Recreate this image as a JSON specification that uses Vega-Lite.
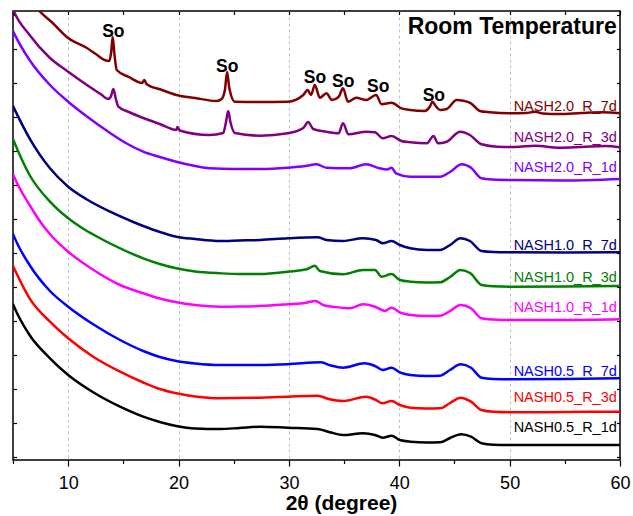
{
"$schema": "https://vega.github.io/schema/vega-lite/v6.json",
"width": 607, "height": 449,
"autosize": {"type": "none"},
"padding": {"left": 13, "top": 11, "right": 13, "bottom": 56},
"background": "white",
"config": {"view": {"stroke": "#000", "strokeWidth": 1.5}, "font": "Liberation Sans"},
"datasets": {
"xrd": [
{"s":"NASH2.0_R_7d","t":5,"v":482},{"s":"NASH2.0_R_7d","t":6,"v":466},{"s":"NASH2.0_R_7d","t":7,"v":454},{"s":"NASH2.0_R_7d","t":7.45,"v":448.3},{"s":"NASH2.0_R_7d","t":8.5,"v":438},{"s":"NASH2.0_R_7d","t":10,"v":422},{"s":"NASH2.0_R_7d","t":11.7,"v":412},{"s":"NASH2.0_R_7d","t":12.5,"v":406},{"s":"NASH2.0_R_7d","t":13.3,"v":400},{"s":"NASH2.0_R_7d","t":13.7,"v":399},{"s":"NASH2.0_R_7d","t":13.9,"v":408},{"s":"NASH2.0_R_7d","t":14.03,"v":423},{"s":"NASH2.0_R_7d","t":14.2,"v":405},{"s":"NASH2.0_R_7d","t":14.4,"v":390},{"s":"NASH2.0_R_7d","t":15.5,"v":383},{"s":"NASH2.0_R_7d","t":16.7,"v":377},{"s":"NASH2.0_R_7d","t":16.9,"v":380},{"s":"NASH2.0_R_7d","t":17.1,"v":376},{"s":"NASH2.0_R_7d","t":18.5,"v":370},{"s":"NASH2.0_R_7d","t":19.8,"v":365},{"s":"NASH2.0_R_7d","t":21.5,"v":362},{"s":"NASH2.0_R_7d","t":23.45,"v":359},{"s":"NASH2.0_R_7d","t":23.9,"v":361},{"s":"NASH2.0_R_7d","t":24.2,"v":370},{"s":"NASH2.0_R_7d","t":24.4,"v":388},{"s":"NASH2.0_R_7d","t":24.6,"v":372},{"s":"NASH2.0_R_7d","t":25.1,"v":358.3},{"s":"NASH2.0_R_7d","t":27.4,"v":358},{"s":"NASH2.0_R_7d","t":29.9,"v":358.3},{"s":"NASH2.0_R_7d","t":31.3,"v":365},{"s":"NASH2.0_R_7d","t":31.7,"v":370},{"s":"NASH2.0_R_7d","t":32.0,"v":365},{"s":"NASH2.0_R_7d","t":32.35,"v":375},{"s":"NASH2.0_R_7d","t":32.8,"v":362.3},{"s":"NASH2.0_R_7d","t":33.4,"v":366.7},{"s":"NASH2.0_R_7d","t":33.9,"v":360},{"s":"NASH2.0_R_7d","t":34.5,"v":363},{"s":"NASH2.0_R_7d","t":34.9,"v":371.7},{"s":"NASH2.0_R_7d","t":35.35,"v":358.3},{"s":"NASH2.0_R_7d","t":36.1,"v":362.3},{"s":"NASH2.0_R_7d","t":37.0,"v":360},{"s":"NASH2.0_R_7d","t":37.9,"v":365},{"s":"NASH2.0_R_7d","t":38.4,"v":355.7},{"s":"NASH2.0_R_7d","t":39.3,"v":357.3},{"s":"NASH2.0_R_7d","t":40.2,"v":351.7},{"s":"NASH2.0_R_7d","t":41.0,"v":350},{"s":"NASH2.0_R_7d","t":42.3,"v":349},{"s":"NASH2.0_R_7d","t":42.8,"v":354},{"s":"NASH2.0_R_7d","t":43.0,"v":358.3},{"s":"NASH2.0_R_7d","t":43.3,"v":354},{"s":"NASH2.0_R_7d","t":43.7,"v":350},{"s":"NASH2.0_R_7d","t":44.3,"v":351},{"s":"NASH2.0_R_7d","t":45.2,"v":360},{"s":"NASH2.0_R_7d","t":45.9,"v":359},{"s":"NASH2.0_R_7d","t":46.5,"v":356.7},{"s":"NASH2.0_R_7d","t":47.3,"v":349},{"s":"NASH2.0_R_7d","t":48.2,"v":347.7},{"s":"NASH2.0_R_7d","t":50,"v":346.7},{"s":"NASH2.0_R_7d","t":51.5,"v":347},{"s":"NASH2.0_R_7d","t":52.3,"v":348.3},{"s":"NASH2.0_R_7d","t":53,"v":346.5},{"s":"NASH2.0_R_7d","t":54.5,"v":346},{"s":"NASH2.0_R_7d","t":56.5,"v":347},{"s":"NASH2.0_R_7d","t":58.4,"v":347.7},{"s":"NASH2.0_R_7d","t":60,"v":346.7},

{"s":"NASH2.0_R_3d","t":5,"v":451},{"s":"NASH2.0_R_3d","t":5.1,"v":448.3},{"s":"NASH2.0_R_3d","t":6.5,"v":425},{"s":"NASH2.0_R_3d","t":8.35,"v":402},{"s":"NASH2.0_R_3d","t":10,"v":388.3},{"s":"NASH2.0_R_3d","t":11.7,"v":375},{"s":"NASH2.0_R_3d","t":13.0,"v":365.5},{"s":"NASH2.0_R_3d","t":13.6,"v":361},{"s":"NASH2.0_R_3d","t":13.85,"v":363},{"s":"NASH2.0_R_3d","t":14.1,"v":371},{"s":"NASH2.0_R_3d","t":14.3,"v":362},{"s":"NASH2.0_R_3d","t":14.55,"v":353.3},{"s":"NASH2.0_R_3d","t":15.5,"v":348},{"s":"NASH2.0_R_3d","t":16.8,"v":342},{"s":"NASH2.0_R_3d","t":18.3,"v":336},{"s":"NASH2.0_R_3d","t":19.8,"v":330},{"s":"NASH2.0_R_3d","t":19.9,"v":333},{"s":"NASH2.0_R_3d","t":20.1,"v":329.5},{"s":"NASH2.0_R_3d","t":22.8,"v":325},{"s":"NASH2.0_R_3d","t":24.05,"v":327},{"s":"NASH2.0_R_3d","t":24.3,"v":338},{"s":"NASH2.0_R_3d","t":24.5,"v":349},{"s":"NASH2.0_R_3d","t":24.7,"v":338},{"s":"NASH2.0_R_3d","t":25.1,"v":327},{"s":"NASH2.0_R_3d","t":27.4,"v":324.3},{"s":"NASH2.0_R_3d","t":29.9,"v":326.7},{"s":"NASH2.0_R_3d","t":31.3,"v":332},{"s":"NASH2.0_R_3d","t":31.75,"v":338},{"s":"NASH2.0_R_3d","t":32.2,"v":331},{"s":"NASH2.0_R_3d","t":33.4,"v":328.3},{"s":"NASH2.0_R_3d","t":34.5,"v":326.7},{"s":"NASH2.0_R_3d","t":34.9,"v":336.7},{"s":"NASH2.0_R_3d","t":35.4,"v":325.7},{"s":"NASH2.0_R_3d","t":37,"v":328.3},{"s":"NASH2.0_R_3d","t":37.8,"v":327.7},{"s":"NASH2.0_R_3d","t":38.5,"v":321.7},{"s":"NASH2.0_R_3d","t":39.3,"v":324},{"s":"NASH2.0_R_3d","t":40.2,"v":319},{"s":"NASH2.0_R_3d","t":41,"v":317.7},{"s":"NASH2.0_R_3d","t":42.5,"v":316.7},{"s":"NASH2.0_R_3d","t":43.1,"v":324},{"s":"NASH2.0_R_3d","t":43.5,"v":316.7},{"s":"NASH2.0_R_3d","t":44.3,"v":318.3},{"s":"NASH2.0_R_3d","t":45.5,"v":328.3},{"s":"NASH2.0_R_3d","t":46.4,"v":325},{"s":"NASH2.0_R_3d","t":47.45,"v":315.7},{"s":"NASH2.0_R_3d","t":48.9,"v":313.3},{"s":"NASH2.0_R_3d","t":50.5,"v":313},{"s":"NASH2.0_R_3d","t":52.3,"v":314.3},{"s":"NASH2.0_R_3d","t":54.5,"v":312.3},{"s":"NASH2.0_R_3d","t":56.5,"v":313},{"s":"NASH2.0_R_3d","t":58.7,"v":314},{"s":"NASH2.0_R_3d","t":60,"v":312.7},

{"s":"NASH2.0_R_1d","t":5,"v":429},{"s":"NASH2.0_R_1d","t":5.1,"v":426.7},{"s":"NASH2.0_R_1d","t":6.5,"v":400},{"s":"NASH2.0_R_1d","t":8.35,"v":375},{"s":"NASH2.0_R_1d","t":10,"v":358.3},{"s":"NASH2.0_R_1d","t":11.7,"v":343.5},{"s":"NASH2.0_R_1d","t":13.8,"v":327},{"s":"NASH2.0_R_1d","t":15.3,"v":316.5},{"s":"NASH2.0_R_1d","t":16.8,"v":308.3},{"s":"NASH2.0_R_1d","t":18.3,"v":303},{"s":"NASH2.0_R_1d","t":19.8,"v":298.3},{"s":"NASH2.0_R_1d","t":21.5,"v":294},{"s":"NASH2.0_R_1d","t":22.8,"v":291.7},{"s":"NASH2.0_R_1d","t":25,"v":291},{"s":"NASH2.0_R_1d","t":27.4,"v":291},{"s":"NASH2.0_R_1d","t":29.9,"v":292.3},{"s":"NASH2.0_R_1d","t":31.5,"v":294},{"s":"NASH2.0_R_1d","t":32.5,"v":295.7},{"s":"NASH2.0_R_1d","t":33.4,"v":292.3},{"s":"NASH2.0_R_1d","t":35.5,"v":291.7},{"s":"NASH2.0_R_1d","t":37,"v":295.7},{"s":"NASH2.0_R_1d","t":38.2,"v":291.7},{"s":"NASH2.0_R_1d","t":38.9,"v":290.5},{"s":"NASH2.0_R_1d","t":39.3,"v":292.3},{"s":"NASH2.0_R_1d","t":39.7,"v":286.7},{"s":"NASH2.0_R_1d","t":41,"v":283.3},{"s":"NASH2.0_R_1d","t":43.7,"v":283.3},{"s":"NASH2.0_R_1d","t":44.6,"v":288},{"s":"NASH2.0_R_1d","t":45.65,"v":295.7},{"s":"NASH2.0_R_1d","t":46.5,"v":292.3},{"s":"NASH2.0_R_1d","t":47.45,"v":281.7},{"s":"NASH2.0_R_1d","t":48.5,"v":280.5},{"s":"NASH2.0_R_1d","t":50,"v":280},{"s":"NASH2.0_R_1d","t":55,"v":279.5},{"s":"NASH2.0_R_1d","t":60,"v":281},

{"s":"NASH1.0_R_7d","t":5,"v":354},{"s":"NASH1.0_R_7d","t":5.1,"v":351.7},{"s":"NASH1.0_R_7d","t":6.5,"v":321.7},{"s":"NASH1.0_R_7d","t":8.35,"v":291.7},{"s":"NASH1.0_R_7d","t":10,"v":273.3},{"s":"NASH1.0_R_7d","t":11.7,"v":260.5},{"s":"NASH1.0_R_7d","t":13.8,"v":248.3},{"s":"NASH1.0_R_7d","t":15.9,"v":238},{"s":"NASH1.0_R_7d","t":16.8,"v":234},{"s":"NASH1.0_R_7d","t":18.3,"v":228},{"s":"NASH1.0_R_7d","t":19.8,"v":223.3},{"s":"NASH1.0_R_7d","t":21.5,"v":221},{"s":"NASH1.0_R_7d","t":23.75,"v":219},{"s":"NASH1.0_R_7d","t":25.5,"v":219.5},{"s":"NASH1.0_R_7d","t":27.4,"v":220},{"s":"NASH1.0_R_7d","t":29.9,"v":221.7},{"s":"NASH1.0_R_7d","t":32.6,"v":222.7},{"s":"NASH1.0_R_7d","t":33.4,"v":220},{"s":"NASH1.0_R_7d","t":34.9,"v":219},{"s":"NASH1.0_R_7d","t":36.7,"v":221.7},{"s":"NASH1.0_R_7d","t":37.9,"v":220},{"s":"NASH1.0_R_7d","t":38.5,"v":216.7},{"s":"NASH1.0_R_7d","t":39.3,"v":219},{"s":"NASH1.0_R_7d","t":40.05,"v":215},{"s":"NASH1.0_R_7d","t":41,"v":211.7},{"s":"NASH1.0_R_7d","t":42.5,"v":210},{"s":"NASH1.0_R_7d","t":43.7,"v":210},{"s":"NASH1.0_R_7d","t":44.6,"v":215},{"s":"NASH1.0_R_7d","t":45.55,"v":221.7},{"s":"NASH1.0_R_7d","t":46.4,"v":219},{"s":"NASH1.0_R_7d","t":47.45,"v":209},{"s":"NASH1.0_R_7d","t":48.5,"v":208},{"s":"NASH1.0_R_7d","t":50,"v":207.7},{"s":"NASH1.0_R_7d","t":55,"v":207.5},{"s":"NASH1.0_R_7d","t":60,"v":207.7},

{"s":"NASH1.0_R_3d","t":5,"v":321},{"s":"NASH1.0_R_3d","t":5.1,"v":318.3},{"s":"NASH1.0_R_3d","t":6.5,"v":285},{"s":"NASH1.0_R_3d","t":8.35,"v":258.3},{"s":"NASH1.0_R_3d","t":10,"v":241.7},{"s":"NASH1.0_R_3d","t":11.4,"v":231},{"s":"NASH1.0_R_3d","t":12.6,"v":223.5},{"s":"NASH1.0_R_3d","t":13.8,"v":216.5},{"s":"NASH1.0_R_3d","t":16.8,"v":201.7},{"s":"NASH1.0_R_3d","t":18.3,"v":196},{"s":"NASH1.0_R_3d","t":19.8,"v":191.7},{"s":"NASH1.0_R_3d","t":21.5,"v":188.5},{"s":"NASH1.0_R_3d","t":23.75,"v":186.7},{"s":"NASH1.0_R_3d","t":25.5,"v":186},{"s":"NASH1.0_R_3d","t":27.4,"v":186},{"s":"NASH1.0_R_3d","t":29.9,"v":188.3},{"s":"NASH1.0_R_3d","t":31.6,"v":190.7},{"s":"NASH1.0_R_3d","t":32.35,"v":194.3},{"s":"NASH1.0_R_3d","t":32.8,"v":189},{"s":"NASH1.0_R_3d","t":34.9,"v":185.7},{"s":"NASH1.0_R_3d","t":36.7,"v":190},{"s":"NASH1.0_R_3d","t":37.8,"v":190},{"s":"NASH1.0_R_3d","t":38.4,"v":183.3},{"s":"NASH1.0_R_3d","t":39.3,"v":186},{"s":"NASH1.0_R_3d","t":40.05,"v":180},{"s":"NASH1.0_R_3d","t":41,"v":178.3},{"s":"NASH1.0_R_3d","t":42.5,"v":177.5},{"s":"NASH1.0_R_3d","t":43.7,"v":177.7},{"s":"NASH1.0_R_3d","t":44.6,"v":183},{"s":"NASH1.0_R_3d","t":45.55,"v":190},{"s":"NASH1.0_R_3d","t":46.45,"v":186.7},{"s":"NASH1.0_R_3d","t":47.45,"v":175},{"s":"NASH1.0_R_3d","t":48.5,"v":173.7},{"s":"NASH1.0_R_3d","t":50,"v":173.3},{"s":"NASH1.0_R_3d","t":55,"v":173.5},{"s":"NASH1.0_R_3d","t":60,"v":174},

{"s":"NASH1.0_R_1d","t":5,"v":286},{"s":"NASH1.0_R_1d","t":5.1,"v":283.3},{"s":"NASH1.0_R_1d","t":6.5,"v":255},{"s":"NASH1.0_R_1d","t":7.75,"v":234},{"s":"NASH1.0_R_1d","t":8.5,"v":224},{"s":"NASH1.0_R_1d","t":10,"v":208.3},{"s":"NASH1.0_R_1d","t":12.3,"v":190},{"s":"NASH1.0_R_1d","t":14.7,"v":175},{"s":"NASH1.0_R_1d","t":16.8,"v":166.7},{"s":"NASH1.0_R_1d","t":18.3,"v":161.5},{"s":"NASH1.0_R_1d","t":19.8,"v":157.7},{"s":"NASH1.0_R_1d","t":21.5,"v":155},{"s":"NASH1.0_R_1d","t":23.75,"v":153.3},{"s":"NASH1.0_R_1d","t":25.5,"v":153.5},{"s":"NASH1.0_R_1d","t":27.4,"v":154},{"s":"NASH1.0_R_1d","t":29.9,"v":155.7},{"s":"NASH1.0_R_1d","t":31.5,"v":157},{"s":"NASH1.0_R_1d","t":32.4,"v":159},{"s":"NASH1.0_R_1d","t":33.1,"v":155},{"s":"NASH1.0_R_1d","t":34.2,"v":153},{"s":"NASH1.0_R_1d","t":35.5,"v":151.7},{"s":"NASH1.0_R_1d","t":36.7,"v":155.7},{"s":"NASH1.0_R_1d","t":37.8,"v":153.3},{"s":"NASH1.0_R_1d","t":38.7,"v":149},{"s":"NASH1.0_R_1d","t":39.3,"v":152.3},{"s":"NASH1.0_R_1d","t":40.05,"v":147.7},{"s":"NASH1.0_R_1d","t":41,"v":145},{"s":"NASH1.0_R_1d","t":42.5,"v":144},{"s":"NASH1.0_R_1d","t":43.7,"v":144.3},{"s":"NASH1.0_R_1d","t":44.6,"v":149},{"s":"NASH1.0_R_1d","t":45.55,"v":155},{"s":"NASH1.0_R_1d","t":46.5,"v":151.7},{"s":"NASH1.0_R_1d","t":47.45,"v":141.7},{"s":"NASH1.0_R_1d","t":48.5,"v":140.5},{"s":"NASH1.0_R_1d","t":50,"v":140},{"s":"NASH1.0_R_1d","t":55,"v":140},{"s":"NASH1.0_R_1d","t":60,"v":140.7},

{"s":"NASH0.5_R_7d","t":5,"v":226},{"s":"NASH0.5_R_7d","t":5.1,"v":223.3},{"s":"NASH0.5_R_7d","t":6.5,"v":195},{"s":"NASH0.5_R_7d","t":8.35,"v":169},{"s":"NASH0.5_R_7d","t":10,"v":153.3},{"s":"NASH0.5_R_7d","t":12.3,"v":135.5},{"s":"NASH0.5_R_7d","t":14.7,"v":120},{"s":"NASH0.5_R_7d","t":16.8,"v":109},{"s":"NASH0.5_R_7d","t":18.3,"v":103},{"s":"NASH0.5_R_7d","t":19.8,"v":99},{"s":"NASH0.5_R_7d","t":21.5,"v":96.5},{"s":"NASH0.5_R_7d","t":23.75,"v":95},{"s":"NASH0.5_R_7d","t":27.4,"v":95},{"s":"NASH0.5_R_7d","t":29.9,"v":95.7},{"s":"NASH0.5_R_7d","t":32.9,"v":97.7},{"s":"NASH0.5_R_7d","t":33.8,"v":94.5},{"s":"NASH0.5_R_7d","t":34.9,"v":92.3},{"s":"NASH0.5_R_7d","t":36.85,"v":96.7},{"s":"NASH0.5_R_7d","t":37.8,"v":94},{"s":"NASH0.5_R_7d","t":38.5,"v":90},{"s":"NASH0.5_R_7d","t":39.3,"v":92.3},{"s":"NASH0.5_R_7d","t":40.05,"v":87.7},{"s":"NASH0.5_R_7d","t":41,"v":85},{"s":"NASH0.5_R_7d","t":42.5,"v":84},{"s":"NASH0.5_R_7d","t":43.7,"v":84.3},{"s":"NASH0.5_R_7d","t":44.6,"v":90},{"s":"NASH0.5_R_7d","t":45.55,"v":95.7},{"s":"NASH0.5_R_7d","t":46.5,"v":92.3},{"s":"NASH0.5_R_7d","t":47.45,"v":82.3},{"s":"NASH0.5_R_7d","t":48.5,"v":81},{"s":"NASH0.5_R_7d","t":50,"v":80.7},{"s":"NASH0.5_R_7d","t":55,"v":81},{"s":"NASH0.5_R_7d","t":60,"v":81.7},

{"s":"NASH0.5_R_3d","t":5,"v":194},{"s":"NASH0.5_R_3d","t":5.1,"v":191.7},{"s":"NASH0.5_R_3d","t":6.5,"v":161.7},{"s":"NASH0.5_R_3d","t":8.35,"v":138.3},{"s":"NASH0.5_R_3d","t":10,"v":121.7},{"s":"NASH0.5_R_3d","t":12.3,"v":103},{"s":"NASH0.5_R_3d","t":14.7,"v":88.3},{"s":"NASH0.5_R_3d","t":16.8,"v":77.5},{"s":"NASH0.5_R_3d","t":18.3,"v":71},{"s":"NASH0.5_R_3d","t":19.8,"v":66.7},{"s":"NASH0.5_R_3d","t":21.5,"v":63.5},{"s":"NASH0.5_R_3d","t":23.75,"v":61.7},{"s":"NASH0.5_R_3d","t":27.4,"v":62.3},{"s":"NASH0.5_R_3d","t":29.9,"v":63.3},{"s":"NASH0.5_R_3d","t":32.6,"v":64.3},{"s":"NASH0.5_R_3d","t":33.6,"v":61},{"s":"NASH0.5_R_3d","t":34.9,"v":59},{"s":"NASH0.5_R_3d","t":37,"v":63.3},{"s":"NASH0.5_R_3d","t":37.8,"v":60.5},{"s":"NASH0.5_R_3d","t":38.5,"v":56.7},{"s":"NASH0.5_R_3d","t":39.3,"v":59},{"s":"NASH0.5_R_3d","t":40.05,"v":55},{"s":"NASH0.5_R_3d","t":41,"v":52.3},{"s":"NASH0.5_R_3d","t":42.5,"v":51.5},{"s":"NASH0.5_R_3d","t":43.7,"v":51.7},{"s":"NASH0.5_R_3d","t":44.6,"v":57},{"s":"NASH0.5_R_3d","t":45.55,"v":62.3},{"s":"NASH0.5_R_3d","t":46.5,"v":58.3},{"s":"NASH0.5_R_3d","t":47.45,"v":50},{"s":"NASH0.5_R_3d","t":48.5,"v":48.2},{"s":"NASH0.5_R_3d","t":50,"v":47.7},{"s":"NASH0.5_R_3d","t":55,"v":48},{"s":"NASH0.5_R_3d","t":60,"v":48.3},

{"s":"NASH0.5_R_1d","t":5,"v":156},{"s":"NASH0.5_R_1d","t":5.1,"v":153.3},{"s":"NASH0.5_R_1d","t":6.5,"v":125},{"s":"NASH0.5_R_1d","t":8.35,"v":101.7},{"s":"NASH0.5_R_1d","t":10,"v":85},{"s":"NASH0.5_R_1d","t":12.3,"v":67.5},{"s":"NASH0.5_R_1d","t":14.7,"v":53.3},{"s":"NASH0.5_R_1d","t":16.8,"v":43.3},{"s":"NASH0.5_R_1d","t":18.3,"v":38},{"s":"NASH0.5_R_1d","t":19.8,"v":34},{"s":"NASH0.5_R_1d","t":21.5,"v":31.5},{"s":"NASH0.5_R_1d","t":23.75,"v":31},{"s":"NASH0.5_R_1d","t":25.5,"v":32},{"s":"NASH0.5_R_1d","t":27.4,"v":33.3},{"s":"NASH0.5_R_1d","t":29.9,"v":32.3},{"s":"NASH0.5_R_1d","t":32.6,"v":31},{"s":"NASH0.5_R_1d","t":33.8,"v":27.5},{"s":"NASH0.5_R_1d","t":34.9,"v":25},{"s":"NASH0.5_R_1d","t":36.7,"v":26.7},{"s":"NASH0.5_R_1d","t":37.8,"v":25},{"s":"NASH0.5_R_1d","t":38.5,"v":22.3},{"s":"NASH0.5_R_1d","t":39.3,"v":24.3},{"s":"NASH0.5_R_1d","t":40.05,"v":20},{"s":"NASH0.5_R_1d","t":41,"v":18.3},{"s":"NASH0.5_R_1d","t":42.5,"v":17.5},{"s":"NASH0.5_R_1d","t":43.7,"v":17.7},{"s":"NASH0.5_R_1d","t":44.6,"v":22},{"s":"NASH0.5_R_1d","t":45.6,"v":25.7},{"s":"NASH0.5_R_1d","t":46.5,"v":23.3},{"s":"NASH0.5_R_1d","t":47.45,"v":16.7},{"s":"NASH0.5_R_1d","t":48.5,"v":15.3},{"s":"NASH0.5_R_1d","t":50,"v":15},{"s":"NASH0.5_R_1d","t":55,"v":15},{"s":"NASH0.5_R_1d","t":60,"v":15}
],
"labels": [
{"s":"NASH2.0_R_7d","t":59.71,"v":353.3},{"s":"NASH2.0_R_3d","t":59.71,"v":322.3},{"s":"NASH2.0_R_1d","t":59.71,"v":292.3},
{"s":"NASH1.0_R_7d","t":59.71,"v":214.3},{"s":"NASH1.0_R_3d","t":59.71,"v":182.3},{"s":"NASH1.0_R_1d","t":59.71,"v":152.3},
{"s":"NASH0.5_R_7d","t":59.71,"v":88.3},{"s":"NASH0.5_R_3d","t":59.71,"v":62.3},{"s":"NASH0.5_R_1d","t":59.71,"v":31.7}
],
"peaks": [
{"txt":"So","t":14.09,"v":428.3},{"txt":"So","t":24.41,"v":393.3},{"txt":"So","t":32.36,"v":381.7},
{"txt":"So","t":34.92,"v":377.7},{"txt":"So","t":38.09,"v":373.3},{"txt":"So","t":43.13,"v":364.3}
],
"title": [{"txt":"Room Temperature","t":59.71,"v":432.7}]
},
"layer": [
{
"data": {"name": "xrd"},
"mark": {"type": "line", "strokeWidth": 2.5, "clip": true, "interpolate": "monotone"},
"encoding": {
"x": {"field": "t", "type": "quantitative", "scale": {"domain": [5, 60], "nice": false, "zero": false},
"axis": {"orient": "bottom", "values": [5,10,15,20,25,30,35,40,45,50,55,60],
"labelExpr": "datum.value % 10 === 0 ? datum.label : ''",
"labelFontSize": 18, "labelColor": "#000", "labelPadding": 8, "labelFlush": false,
"tickColor": "#000", "tickWidth": 1.2,
"tickSize": {"condition": {"test": "datum.value % 10 === 0", "value": 6}, "value": 3.5},
"domain": false, "grid": true, "gridColor": "#bdbdbd", "gridDash": [3, 3], "gridWidth": 1,
"gridOpacity": {"condition": {"test": "datum.value % 10 === 0 && datum.value > 5 && datum.value < 60", "value": 1}, "value": 0},
"title": "2θ (degree)", "titleFontSize": 21, "titleFontWeight": "bold", "titleColor": "#000",
"titleX": 328, "titleY": 43.5, "titleBaseline": "middle", "titleAlign": "center"}},
"y": {"field": "v", "type": "quantitative", "scale": {"domain": [0, 449], "nice": false, "zero": false},
"axis": {"orient": "left", "values": [3,37,71,105,139,173,207,241,275,309,343,377,411,445], "labels": false, "domain": false, "grid": false,
"tickSize": -3.5, "tickColor": "#000", "tickWidth": 1.2, "title": null}},
"color": {"field": "s", "type": "nominal",
"scale": {"domain": ["NASH2.0_R_7d","NASH2.0_R_3d","NASH2.0_R_1d","NASH1.0_R_7d","NASH1.0_R_3d","NASH1.0_R_1d","NASH0.5_R_7d","NASH0.5_R_3d","NASH0.5_R_1d"],
"range": ["#800000","#800080","#8000FF","#000080","#008000","#FF00FF","#0000FF","#FF0000","#000000"]},
"legend": null}
}
},
{
"data": {"name": "labels"},
"mark": {"type": "text", "align": "right", "baseline": "middle", "fontSize": 14.5, "font": "Liberation Sans"},
"encoding": {
"x": {"field": "t", "type": "quantitative",
"axis": {"orient": "top", "values": [5,10,15,20,25,30,35,40,45,50,55,60], "labels": false, "domain": false, "grid": false,
"tickSize": -3.5, "tickColor": "#000", "tickWidth": 1.2, "title": null}},
"y": {"field": "v", "type": "quantitative",
"axis": {"orient": "right", "values": [3,37,71,105,139,173,207,241,275,309,343,377,411,445], "labels": false, "domain": false, "grid": false,
"tickSize": -3.5, "tickColor": "#000", "tickWidth": 1.2, "title": null}},
"text": {"field": "s"},
"color": {"field": "s", "type": "nominal", "legend": null}
}
},
{
"data": {"name": "peaks"},
"mark": {"type": "text", "align": "center", "baseline": "middle", "fontSize": 17.5, "fontWeight": "bold", "font": "Liberation Sans", "color": "#000"},
"encoding": {
"x": {"field": "t", "type": "quantitative", "axis": null},
"y": {"field": "v", "type": "quantitative", "axis": null},
"text": {"field": "txt"}
}
},
{
"data": {"name": "title"},
"mark": {"type": "text", "align": "right", "baseline": "middle", "fontSize": 23, "fontWeight": "bold", "font": "Liberation Sans", "color": "#000"},
"encoding": {
"x": {"field": "t", "type": "quantitative", "axis": null},
"y": {"field": "v", "type": "quantitative", "axis": null},
"text": {"field": "txt"}
}
}
],
"resolve": {"axis": {"x": "independent", "y": "independent"}}
}
